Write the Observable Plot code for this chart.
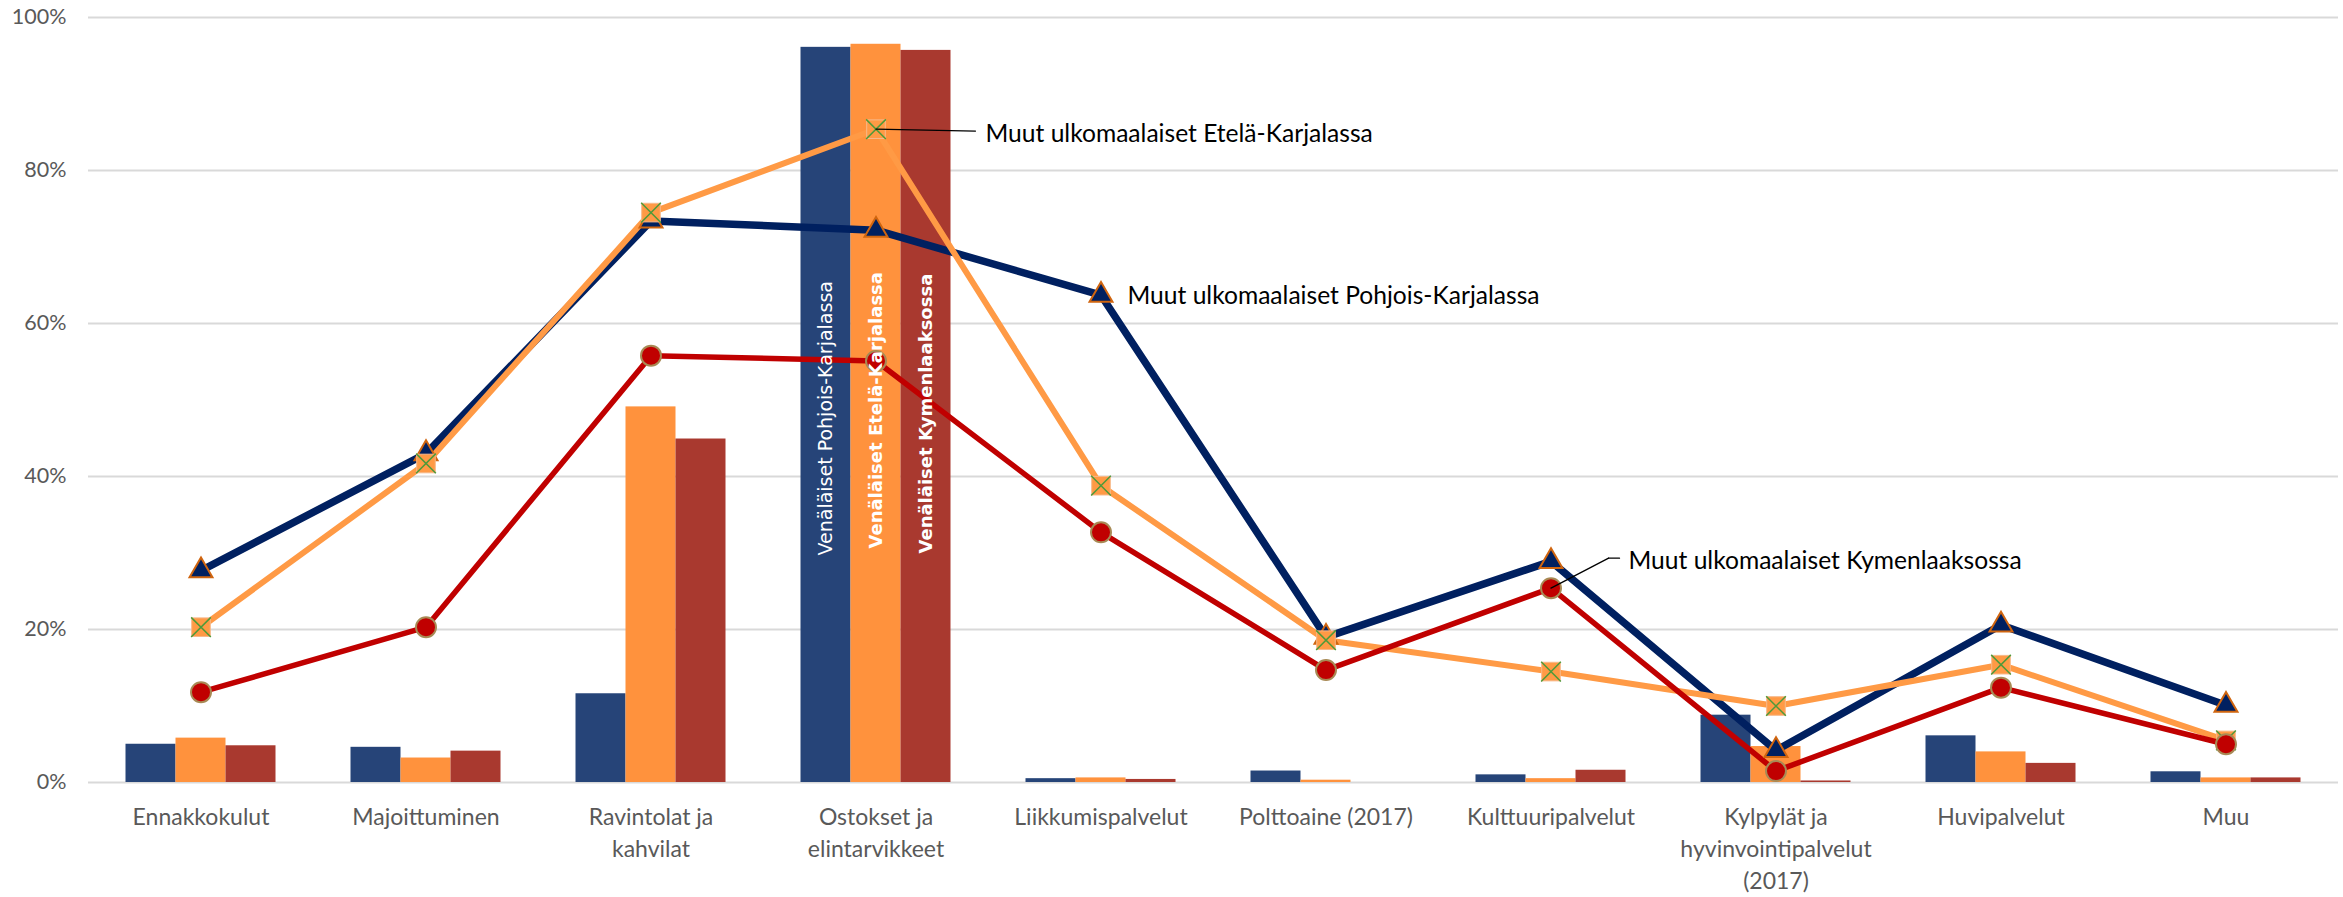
<!DOCTYPE html>
<html>
<head>
<meta charset="utf-8">
<script src="https://cdn.jsdelivr.net/npm/d3@7"></script>
<script src="https://cdn.jsdelivr.net/npm/@observablehq/plot@0.6"></script>
<style>
  html, body { margin: 0; padding: 0; background: #ffffff; overflow: hidden; }
  #chart svg { display: block; }
</style>
</head>
<body>
<div id="chart"></div>
<script>
// ---- Data ----
const categories = ["Ennakkokulut", "Majoittuminen", "Ravintolat ja kahvilat", "Ostokset ja elintarvikkeet", "Liikkumispalvelut", "Polttoaine (2017)", "Kulttuuripalvelut", "Kylpylät ja hyvinvointipalvelut (2017)", "Huvipalvelut", "Muu"];
const categoryLabels = ["Ennakkokulut", "Majoittuminen", "Ravintolat ja\nkahvilat", "Ostokset ja\nelintarvikkeet", "Liikkumispalvelut", "Polttoaine (2017)", "Kulttuuripalvelut", "Kylpylät ja\nhyvinvointipalvelut\n(2017)", "Huvipalvelut", "Muu"];

const barSeries = ["Venäläiset Pohjois-Karjalassa", "Venäläiset Etelä-Karjalassa", "Venäläiset Kymenlaaksossa"];
const barPK = [5.0, 4.6, 11.6, 96.1, 0.5, 1.5, 1.0, 8.8, 6.1, 1.4];
const barEK = [5.8, 3.2, 49.1, 96.5, 0.6, 0.3, 0.5, 4.7, 4.0, 0.6];
const barKY = [4.8, 4.1, 44.9, 95.7, 0.4, 0.0, 1.6, 0.2, 2.5, 0.6];

const lineSeries = ["Muut ulkomaalaiset Pohjois-Karjalassa", "Muut ulkomaalaiset Etelä-Karjalassa", "Muut ulkomaalaiset Kymenlaaksossa"];
const linePK = [27.7, 43.0, 73.4, 72.2, 63.7, 19.0, 28.9, 4.2, 20.6, 10.1];
const lineEK = [20.3, 41.7, 74.5, 85.4, 38.8, 18.6, 14.5, 10.0, 15.4, 5.5];
const lineKY = [11.8, 20.3, 55.8, 55.1, 32.7, 14.7, 25.4, 1.5, 12.4, 5.0];

const yTicks = [0, 20, 40, 60, 80, 100];

// ---- Tables built from the arrays ----
const rows = (vals, series) => categories.map((c, i) => ({category: c, value: vals[i], series}));
const bPK = rows(barPK, barSeries[0]);
const bEK = rows(barEK, barSeries[1]);
const bKY = rows(barKY, barSeries[2]);
const lPK = rows(linePK, lineSeries[0]);
const lEK = rows(lineEK, lineSeries[1]);
const lKY = rows(lineKY, lineSeries[2]);

const labelFont = "Lato, 'Open Sans', sans-serif";
const barW = 50;
const barInset = (225 - barW) / 2;
const leader = {draw(ctx, l) { ctx.moveTo(0, 0); ctx.lineTo(0, -l); }};

const chart = Plot.plot({
  width: 2343,
  height: 897,
  marginLeft: 88,
  marginRight: 5,
  marginTop: 17,
  marginBottom: 115,
  style: {background: "#ffffff", overflow: "visible"},
  x: {domain: categories, padding: 0, axis: null},
  y: {domain: [0, 100], axis: null},
  marks: [
    // gridlines
    Plot.ruleY(yTicks, {stroke: "#D9D9D9", strokeWidth: 2}),
    // bars
    Plot.barY(bPK, {x: "category", y: "value", fill: "#264478", insetLeft: barInset, insetRight: barInset, dx: -barW}),
    Plot.barY(bEK, {x: "category", y: "value", fill: "#FF923D", insetLeft: barInset, insetRight: barInset}),
    Plot.barY(bKY, {x: "category", y: "value", fill: "#A9392F", insetLeft: barInset, insetRight: barInset, dx: barW}),
    // lines
    Plot.lineY(lPK, {x: "category", y: "value", stroke: "#002060", strokeWidth: 7.5}),
    Plot.lineY(lEK, {x: "category", y: "value", stroke: "#FF9A45", strokeWidth: 6}),
    Plot.lineY(lKY, {x: "category", y: "value", stroke: "#C00000", strokeWidth: 5.5}),
    // markers
    Plot.dot(lPK, {x: "category", y: "value", symbol: "triangle", r: 8.5, fill: "#002060", stroke: "#D0650F", strokeWidth: 2}),
    Plot.dot(lEK, {x: "category", y: "value", symbol: "square", r: 10.5, fill: "#FF9A45", stroke: "#F7B98A", strokeWidth: 1}),
    Plot.dot(lEK, {x: "category", y: "value", symbol: "times", r: 9, stroke: "#4E9A3A", strokeWidth: 1.5}),
    Plot.dot(lKY, {x: "category", y: "value", symbol: "circle", r: 10, fill: "#C00000", stroke: "#A88A55", strokeWidth: 2}),
    // labels inside the tall bars
    Plot.text([{category: categories[3], value: 0, label: barSeries[0]}], {x: "category", y: "value", text: "label", rotate: -90, textAnchor: "start", lineAnchor: "middle", dx: -barW, dy: -227, fill: "#ffffff", fontSize: 19, fontFamily: "'DejaVu Sans', Verdana, sans-serif"}),
    Plot.text([{category: categories[3], value: 0, label: barSeries[1]}], {x: "category", y: "value", text: "label", rotate: -90, textAnchor: "start", lineAnchor: "middle", dx: 0, dy: -234, fill: "#ffffff", fontSize: 18, fontWeight: "bold", fontFamily: "'DejaVu Sans', Verdana, sans-serif"}),
    Plot.text([{category: categories[3], value: 0, label: barSeries[2]}], {x: "category", y: "value", text: "label", rotate: -90, textAnchor: "start", lineAnchor: "middle", dx: barW, dy: -229, fill: "#ffffff", fontSize: 18, fontWeight: "bold", fontFamily: "'DejaVu Sans', Verdana, sans-serif"}),
    // annotation leaders
    Plot.vector([{category: categories[3], value: lineEK[3]}], {x: "category", y: "value", anchor: "start", length: 99.5, rotate: 91.1, stroke: "#000000", strokeWidth: 1.3, shape: leader}),
    Plot.vector([{category: categories[6], value: lineKY[6]}], {x: "category", y: "value", anchor: "start", length: 65, rotate: 62.4, stroke: "#000000", strokeWidth: 1.3, shape: leader}),
    Plot.vector([{category: categories[6], value: lineKY[6]}], {x: "category", y: "value", anchor: "start", length: 11, rotate: 90, dx: 57.5, dy: -30, stroke: "#000000", strokeWidth: 1.3, shape: leader}),
    // annotation texts
    Plot.text([{category: categories[3], value: lineEK[3], label: lineSeries[1]}], {x: "category", y: "value", text: "label", textAnchor: "start", dx: 109.5, dy: 5, fill: "#000000", fontSize: 24.6, fontFamily: labelFont}),
    Plot.text([{category: categories[4], value: linePK[4], label: lineSeries[0]}], {x: "category", y: "value", text: "label", textAnchor: "start", dx: 26.5, dy: 1, fill: "#000000", fontSize: 24.6, fontFamily: labelFont}),
    Plot.text([{category: categories[6], value: lineKY[6], label: lineSeries[2]}], {x: "category", y: "value", text: "label", textAnchor: "start", dx: 77.5, dy: -27, fill: "#000000", fontSize: 24.6, fontFamily: labelFont}),
    // y tick labels
    Plot.text(yTicks, {y: d => d, frameAnchor: "left", text: d => d + "%", textAnchor: "end", dx: -22, fill: "#595959", fontSize: 21.5, fontFamily: labelFont}),
    // x category labels
    Plot.text(categories, {x: d => d, frameAnchor: "bottom", text: (d, i) => categoryLabels[i], lineAnchor: "top", lineHeight: 1.39, dy: 20, fill: "#595959", fontSize: 23, fontFamily: labelFont})
  ]
});
document.getElementById("chart").appendChild(chart);
</script>
</body>
</html>
